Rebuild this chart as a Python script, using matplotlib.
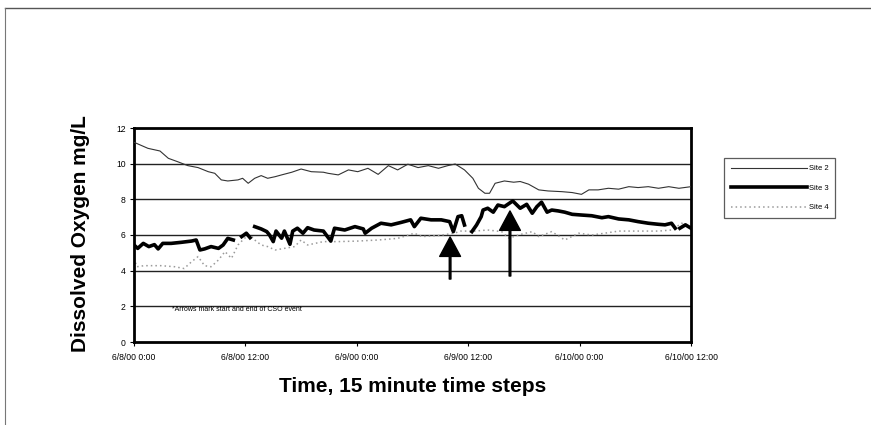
import numpy as np
import matplotlib
matplotlib.use('Agg')
import matplotlib.pyplot as plt

plt.rcParams['font.family'] = ['Liberation Sans', 'DejaVu Sans']

# hours since 6/8/00 0:00 and dissolved oxygen (mg/L)
site2_h = [0, 1.5, 2.8, 3.7, 4.7, 5.8, 6.9, 8.0, 8.7, 9.4, 10.1, 11.2, 11.7, 12.3, 13.0,
           13.7, 14.4, 15.2, 15.9, 17.0, 18.0, 19.1, 20.4, 20.9, 22.0, 23.1, 24.1, 25.2,
           26.3, 27.4, 28.4, 29.5, 30.6, 31.7, 32.8, 33.8, 34.6, 35.6, 36.5, 37.1, 37.8,
           38.3, 38.9, 39.9, 40.9, 41.6, 42.5, 43.6, 44.6, 46.1, 47.2, 48.2, 49.0, 50.0,
           51.1, 52.2, 53.3, 54.3, 55.4, 56.5, 57.6, 58.7, 60]
site2_do = [11.2, 10.86, 10.71, 10.3, 10.11, 9.89, 9.78, 9.55, 9.46, 9.09, 9.03, 9.09, 9.18,
            8.9, 9.18, 9.33, 9.18, 9.27, 9.37, 9.52, 9.7, 9.55, 9.52, 9.46, 9.37, 9.65,
            9.55, 9.74, 9.4, 9.89, 9.65, 9.97, 9.78, 9.89, 9.74, 9.89, 9.98, 9.65, 9.18,
            8.62, 8.34, 8.34, 8.9, 9.03, 8.96, 9.0, 8.85, 8.53, 8.47, 8.43, 8.38, 8.28,
            8.53, 8.53, 8.62, 8.57, 8.71, 8.66, 8.71, 8.62, 8.71, 8.62, 8.71]

site3_h = [0, 0.4, 1.0, 1.6, 2.2, 2.6, 3.1, 4.0, 5.1, 6.2, 6.7, 7.1, 7.6, 8.3, 9.1, 9.6,
           10.1, 10.7, 11.1, 11.6, 12.1, 12.5, 12.8, 13.0, 13.7, 14.3, 14.6, 15.0, 15.3,
           15.9, 16.2, 16.8, 17.1, 17.6, 18.2, 18.7, 19.4, 20.4, 21.2, 21.6, 22.7, 23.8,
           24.7, 24.9, 25.6, 26.6, 27.7, 28.8, 29.8, 30.2, 30.9, 32.0, 33.1, 34.0, 34.4,
           34.9, 35.3, 35.6, 36.0, 36.4, 36.9, 37.4, 37.6, 38.1, 38.7, 39.2, 39.9, 40.8,
           41.6, 42.3, 42.9, 43.4, 43.9, 44.5, 45.0, 45.7, 46.4, 47.2, 48.2, 49.3, 50.4,
           51.1, 52.2, 53.3, 54.3, 55.4, 56.5, 57.2, 57.9, 58.3, 58.5, 58.8, 59.4, 60]
site3_do = [5.44, 5.25, 5.53, 5.35, 5.46, 5.22, 5.53, 5.53, 5.59, 5.66, 5.72, 5.16, 5.22,
            5.35, 5.25, 5.44, 5.81, 5.72, np.nan, 5.91, 6.1, 5.85, np.nan, 6.47, 6.34,
            6.19, 6.0, 5.63, 6.22, 5.82, 6.22, 5.48, 6.22, 6.38, 6.1, 6.41, 6.28, 6.22,
            5.66, 6.38, 6.28, 6.47, 6.34, 6.1, 6.38, 6.66, 6.57, 6.71, 6.85, 6.47, 6.94,
            6.85, 6.85, 6.75, 6.19, 7.03, 7.08, 6.56, np.nan, 6.19, 6.56, 7.03, 7.4, 7.5,
            7.28, 7.68, 7.59, 7.91, 7.5, 7.72, 7.22, 7.59, 7.84, 7.28, 7.4, 7.35, 7.28,
            7.16, 7.12, 7.08, 6.97, 7.03, 6.9, 6.85, 6.75, 6.66, 6.6, 6.57, 6.66, 6.38,
            np.nan, 6.38, 6.57, 6.38]

site4_h = [0, 0.3, 1.1, 2.9, 4.4, 5.4, 6.2, 6.9, 7.6, 8.3, 9.1, 9.8, 10.5, 11.2, 11.9,
           12.6, 13.0, 13.7, 14.4, 15.2, 16.2, 17.3, 18.0, 18.7, 20.4, 22.0, 24.1, 26.3,
           28.4, 30.2, 31.0, 32.8, 34.5, 35.2, 36.7, 38.1, 39.6, 40.4, 41.4, 42.9, 43.6,
           45.0, 46.4, 47.9, 49.3, 50.7, 52.2, 53.6, 55.1, 56.5, 57.9, 59.0, 60]
site4_do = [4.69, 4.22, 4.28, 4.28, 4.22, 4.12, 4.5, 4.79, 4.28, 4.22, 4.6, 5.07, 4.69,
            5.44, 5.82, 6.0, 5.72, 5.44, 5.35, 5.16, 5.25, 5.35, 5.72, 5.44, 5.63, 5.63,
            5.66, 5.72, 5.81, 6.1, 5.91, 5.97, 6.1, 6.22, 6.22, 6.28, 6.19, 5.82, 6.0,
            6.19, 5.91, 6.19, 5.72, 6.1, 6.0, 6.1, 6.22, 6.22, 6.22, 6.22, 6.28, 6.66, 6.47]

# CSO event arrows: (hour, tip value, tail value)
arrow_h = [34.05, 40.5]
arrow_tip = [5.89, 7.35]
arrow_tail = [3.53, 3.70]

xtick_h = [0, 12, 24, 36, 48, 60]
xtick_labels = ['6/8/00 0:00', '6/8/00 12:00', '6/9/00 0:00',
                '6/9/00 12:00', '6/10/00 0:00', '6/10/00 12:00']
ytick_vals = [0, 2, 4, 6, 8, 10, 12]

W, H = 871, 425
fig = plt.figure(figsize=(W / 100, H / 100), dpi=100)
ax = fig.add_axes([134 / W, 1 - 342 / H, (691 - 134) / W, (342 - 128) / H])

for v in ytick_vals[1:-1]:
    ax.axhline(v, color='#222222', lw=1.0, zorder=1)

l2, = ax.plot(site2_h, site2_do, color='#333333', lw=0.8, label='Site 2', zorder=3)
l3, = ax.plot(site3_h, site3_do, color='black', lw=2.6, label='Site 3', zorder=4)
l4, = ax.plot(site4_h, site4_do, color='#9a9a9a', lw=1.1, ls=(0, (1, 2)), label='Site 4', zorder=2)

for h, tip, tail in zip(arrow_h, arrow_tip, arrow_tail):
    ax.annotate('', xy=(h, tip), xytext=(h, tail),
                arrowprops=dict(width=1.2, headwidth=15, headlength=14,
                                facecolor='black', edgecolor='black', shrink=0))

ax.text(4.1, 1.8, '*Arrows mark start and end of CSO event', fontsize=5, va='center', ha='left')

ax.set_xlim(0, 60)
ax.set_ylim(0, 12)
ax.set_xticks(xtick_h)
ax.set_xticklabels(xtick_labels)
ax.set_yticks(ytick_vals)
ax.tick_params(axis='both', labelsize=6.2, length=3, width=0.8, direction='out')
ax.tick_params(axis='x', pad=5)
ax.tick_params(axis='y', pad=3)
for s in ax.spines.values():
    s.set_linewidth(2.0)
    s.set_color('black')

fig.text(80 / W, 1 - 234 / H, 'Dissolved Oxygen mg/L', rotation=90, fontsize=15,
         fontweight='bold', ha='center', va='center')
fig.text(413 / W, 1 - 387 / H, 'Time, 15 minute time steps', fontsize=15,
         fontweight='bold', ha='center', va='center')

leg = fig.legend(handles=[l2, l3, l4], loc='upper left', bbox_to_anchor=(724 / W, 1 - 158 / H),
                 fontsize=5.5, frameon=True, fancybox=False, handlelength=10,
                 handletextpad=0.2, labelspacing=1.6, borderpad=0.9, borderaxespad=0)
leg.get_frame().set_edgecolor('#333333')
leg.get_frame().set_linewidth(0.9)

# scanned page frame
fig.add_artist(plt.Line2D([5 / W, 1], [1 - 8 / H, 1 - 8 / H], color='#555555', lw=1.0))
fig.add_artist(plt.Line2D([5 / W, 5 / W], [0, 1 - 8 / H], color='#777777', lw=0.8))

fig.savefig('out.png', dpi=100)
